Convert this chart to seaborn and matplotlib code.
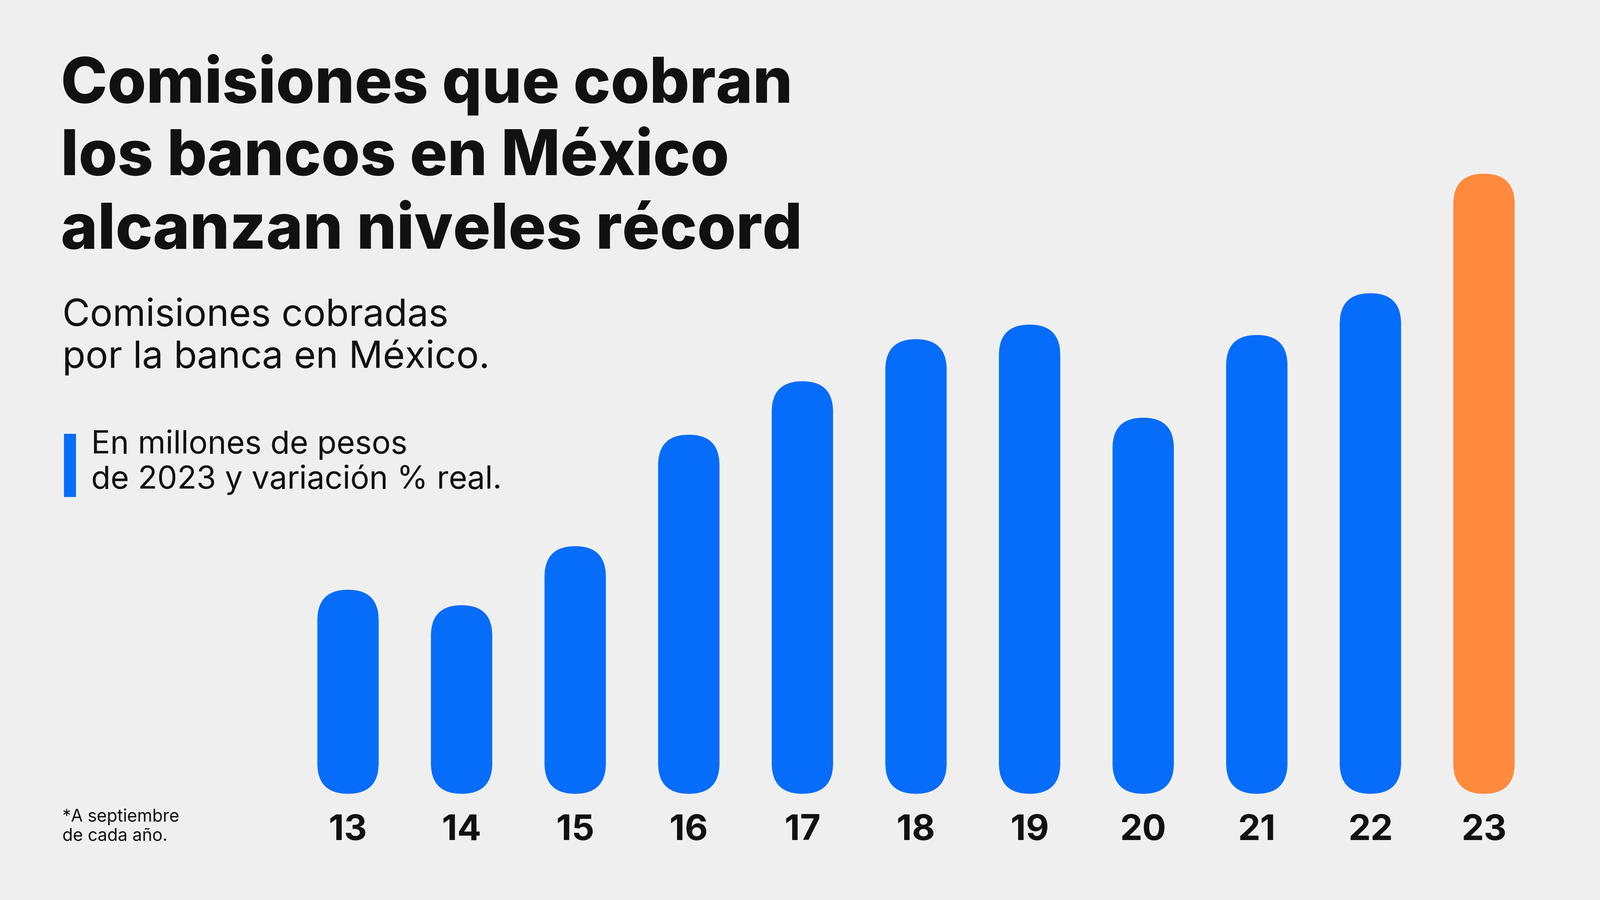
import matplotlib.pyplot as plt
import seaborn as sns
import pandas as pd
from matplotlib.patches import FancyBboxPatch, Rectangle

years = ["13", "14", "15", "16", "17", "18", "19", "20", "21", "22", "23"]
values = [98044, 95968, 103880, 118818, 125979, 131621, 133571, 121096, 132180, 137775, 153792]
labels = ["98,044", "95,968", "103,880", "118,818", "125,979", "131,621",
          "133,571", "121,096", "132,180", "137,775", "153,792"]

BG = "#efefef"
BLUE = "#066cfa"
ORANGE = "#ff8a3d"
base = 70700
font = "Inter"

df = pd.DataFrame({"year": years, "value": [v - base for v in values]})
colors = [BLUE] * 10 + [ORANGE]

fig = plt.figure(figsize=(40.01, 22.51), dpi=100, facecolor=BG)
ax = fig.add_axes([0.182, 0.118, 0.781, 0.689])
ax.set_facecolor(BG)
sns.barplot(data=df, x="year", y="value", hue="year", palette=colors,
            legend=False, width=0.54, saturation=1, ax=ax)
ax.set_ylim(0, values[-1] - base)
ax.set_xlim(-0.5, 10.5)
ax.axis("off")

fig.canvas.draw()
inv = ax.transData.inverted()

for i, p in enumerate(list(ax.patches)):
    x, w, h = p.get_x(), p.get_width(), p.get_height()
    fc = p.get_facecolor()
    p.remove()
    (px0, py0) = ax.transData.transform((x, 0))
    (px1, py1) = ax.transData.transform((x + w, h))
    wpx = px1 - px0
    fig.patches.append(FancyBboxPatch((px0, py0), wpx, py1 - py0,
                       boxstyle=f"round,pad=0,rounding_size={wpx / 2}",
                       transform=None, fc=fc, ec="none"))
    tc = "#111111" if i == 10 else "white"
    ty = inv.transform((0, py1 - wpx * 0.35))[1]
    ax.text(x + w / 2, ty, labels[i], rotation=90,
            ha="center", va="top", color=tc, fontsize=62,
            fontweight="bold", family=font)
    fig.text((px0 + wpx / 2) / fig.bbox.width, 0.077,
             years[i], ha="center", va="center", fontsize=64,
             fontweight="bold", family=font, color="#111111")

for yy, line in zip([0.906, 0.824, 0.742],
                    ["Comisiones que cobran", "los bancos en México", "alcanzan niveles récord"]):
    fig.text(0.038, yy, line, fontsize=113, fontweight="heavy",
             family=font, color="#111111", va="center")

fig.text(0.039, 0.668, "Comisiones cobradas\npor la banca en México.", fontsize=68,
         family=font, color="#111111", va="top", linespacing=1.2)

fig.patches.append(Rectangle((0.040, 0.448), 0.0075, 0.07, transform=fig.transFigure,
                             fc=BLUE, ec="none"))
fig.text(0.057, 0.523, "En millones de pesos\nde 2023 y variación % real.", fontsize=57,
         family=font, color="#111111", va="top", linespacing=1.2)

fig.text(0.039, 0.082, "*A septiembre\nde cada año.", fontsize=31,
         family=font, color="#111111", va="center", linespacing=1.2)

fig.savefig("out.png", dpi=100, facecolor=BG)
